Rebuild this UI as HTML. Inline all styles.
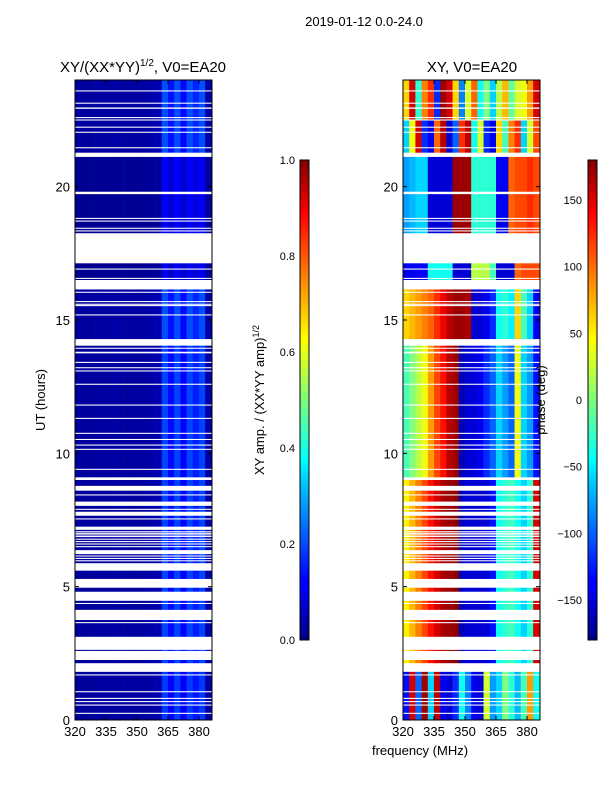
<!DOCTYPE html>
<html><head><meta charset="utf-8"><style>
html,body{margin:0;padding:0;background:#fff;}
svg{display:block;font-family:"Liberation Sans",sans-serif;}
</style></head><body>
<svg id="fig" width="600" height="800" viewBox="0 0 600 800">
<text x="364" y="26" font-size="13" text-anchor="middle">2019-01-12 0.0-24.0</text>
<text x="143" y="72" font-size="15" text-anchor="middle">XY/(XX*YY)<tspan font-size="10" dy="-6">1/2</tspan><tspan dy="6">, V0=EA20</tspan></text>
<text x="472" y="72" font-size="15" text-anchor="middle">XY, V0=EA20</text>
<g id="amp"></g>
<g id="phs"></g>
<g id="gaps"></g>
<rect x="75" y="80" width="137" height="640" fill="none" stroke="#000"/>
<rect x="403" y="80" width="137" height="640" fill="none" stroke="#000"/>
<g id="ticks" font-size="13"></g>
<text transform="translate(45,400) rotate(-90)" font-size="13" text-anchor="middle">UT (hours)</text>
<text x="420" y="755" font-size="13" text-anchor="middle">frequency (MHz)</text>
<defs>
<linearGradient id="jet" x1="0" y1="1" x2="0" y2="0">
<stop offset="0" stop-color="#00007f"/><stop offset="0.11" stop-color="#0000ff"/><stop offset="0.125" stop-color="#0000ff"/>
<stop offset="0.34" stop-color="#00d4ff"/><stop offset="0.375" stop-color="#00ffff"/>
<stop offset="0.5" stop-color="#7dff7a"/><stop offset="0.625" stop-color="#ffff00"/>
<stop offset="0.65" stop-color="#ffe600"/><stop offset="0.89" stop-color="#ff0000"/><stop offset="1" stop-color="#7f0000"/>
</linearGradient>
</defs>
<rect x="300" y="160" width="9" height="480" fill="url(#jet)" stroke="#000"/>
<rect x="588" y="160" width="9" height="480" fill="url(#jet)" stroke="#000"/>
<text transform="translate(264,400) rotate(-90)" font-size="13" text-anchor="middle">XY amp. / (XX*YY amp)<tspan font-size="9" dy="-5">1/2</tspan></text>
<text transform="translate(545,400) rotate(-90)" font-size="13" text-anchor="middle">phase (deg)</text>
</svg>
<script>
// ---- data ----
const freqBins = [321.5,324.5,327.5,330.5,333.5,336.5,339.5,342.5,345.5,348.5,351.5,354.5,357.5,360.5,363.5,366.5,369.5,372.5,375.5,378.5,381.5,384.5];
const regimeStart = [22.5, 21.27, 18.25, 16.5, 14.28, 9.0, 2.1, 0];
const regimeEnd   = [24, 22.5, 21.12, 17.13, 16.15, 14.04, 9.0, 1.81];
const phaseA = [60,150,-30,90,120,-120,170,150,60,-90,30,100,-40,0,-60,20,70,-10,30,40,80,150];
const phaseB = [-60,40,150,-120,-140,100,160,-150,-100,120,160,-40,30,-120,-140,60,-20,90,120,-60,30,110];
const phaseC = [-80,-70,-60,-60,-150,-150,-150,-150,170,170,170,-30,-30,-30,-30,-140,-140,100,110,110,120,110];
const phaseD = [-140,-140,-140,-140,-40,-40,-40,-40,-150,-150,-150,20,20,20,-20,-150,-150,-150,100,110,110,110];
const phaseE = [60,70,80,90,100,120,140,160,170,170,165,-150,-150,-140,-120,-40,-30,-50,60,-20,-60,-140];
const phaseF = [-20,0,20,40,80,110,130,160,170,-160,-150,-150,-140,-120,-100,-60,-80,-100,40,-60,-80,-130];
const phaseG = [50,70,90,110,130,150,165,170,175,-160,-150,-150,-150,-150,-130,-40,-30,-20,-40,-60,-30,150];
const phaseH = [-130,150,-100,170,-60,160,-140,-150,-120,-40,-90,-140,-150,30,-80,-60,0,-30,-70,-20,80,-40];
const ampProfile = [0.03,0.03,0.03,0.035,0.035,0.035,0.04,0.035,0.035,0.035,0.035,0.04,0.04,0.05,0.2,0.14,0.2,0.13,0.2,0.16,0.2,0.04];
const ampScale = [1, 1, 0.6, 0.55, 1, 0.95, 0.95, 0.9];
const gapStart = [23.57,23.11,22.92,22.57,22.48,22.21,22.02,21.44,21.12,19.72,18.79,18.69,18.42,18.32,17.13,16.89,16.54,16.15,16.02,15.67,15.57,15.52,15.17,14.04,13.92,13.75,13.39,13.19,13.07,12.57,
11.79,11.29,10.73,10.5,10.29,10.13,9.38,9.0,8.6,8.42,8.03,7.88,7.66,7.52,7.13,7.04,6.98,6.92,6.86,6.76,6.67,6.58,6.48,6.22,6.13,6.04,5.95,5.6,4.96,4.47,4.35,3.75,3.63,2.63,2.25,1.81,1.67,1.04,0.79,0.67,0.54,0.23];
const gapEnd   = [23.61,23.15,22.97,22.61,22.52,22.25,22.06,21.48,21.27,19.81,18.83,18.73,18.46,18.36,18.25,16.93,16.58,16.5,16.06,15.71,15.61,15.56,15.21,14.28,13.96,13.81,13.43,13.23,13.11,12.61,
11.83,11.33,10.77,10.54,10.33,10.17,9.42,9.1,8.78,8.46,8.19,7.92,7.81,7.56,7.25,7.08,7.02,6.96,6.9,6.8,6.71,6.62,6.52,6.37,6.17,6.08,5.99,5.88,5.29,4.81,4.39,4.13,3.67,3.12,2.59,2.13,1.71,1.08,0.83,0.71,0.58,0.27];
const yTicks = [0,5,10,15,20];
const xTicks = [320,335,350,365,380];
const ampCbTicks = [0.0,0.2,0.4,0.6,0.8,1.0];
const phsCbTicks = [-150,-100,-50,0,50,100,150];
// ---- scales ----
const F0=320, F1=386.3, BIN=3;
function xA(f){return 75+(f-F0)/(F1-F0)*137;}
function xP(f){return 403+(f-F0)/(F1-F0)*137;}
function yH(h){return 720-h/24*640;}
function jet(v){v=Math.max(0,Math.min(1,v));
 const r=Math.max(0,Math.min(1,Math.min(4*v-1.5,-4*v+4.5)));
 const g=Math.max(0,Math.min(1,Math.min(4*v-0.5,-4*v+3.5)));
 const b=Math.max(0,Math.min(1,Math.min(4*v+0.5,-4*v+2.5)));
 return `rgb(${Math.round(r*255)},${Math.round(g*255)},${Math.round(b*255)})`;}
const NS='http://www.w3.org/2000/svg';
function mk(tag,attrs,parent){const e=document.createElementNS(NS,tag);for(const k in attrs)e.setAttribute(k,attrs[k]);parent.appendChild(e);return e;}
const phases=[phaseA,phaseB,phaseC,phaseD,phaseE,phaseF,phaseG,phaseH];
const gA=document.getElementById('amp'), gP=document.getElementById('phs');
for(let r=0;r<regimeStart.length;r++){
 const y0=yH(regimeEnd[r]), y1=yH(regimeStart[r]);
 for(let i=0;i<freqBins.length;i++){
  const fa=freqBins[i]-BIN/2, fb=Math.min(freqBins[i]+BIN/2,F1);
  const c=mk('rect',{x:xA(fa),y:y0,width:xA(fb)-xA(fa)+0.3,height:y1-y0,fill:jet(ampProfile[i]*ampScale[r])},gA);
  
  
  const p=mk('rect',{x:xP(fa),y:y0,width:xP(fb)-xP(fa)+0.3,height:y1-y0,fill:jet((phases[r][i]+180)/360)},gP);
  
  
 }
}
const gG=document.getElementById('gaps');
for(let k=0;k<gapStart.length;k++){
 const y0=yH(gapEnd[k]), h=yH(gapStart[k])-y0;
 const a=mk('rect',{x:75,y:y0,width:137,height:h,fill:'#fff'},gG);
 
 
 const b=mk('rect',{x:403,y:y0,width:137,height:h,fill:'#fff'},gG);
 
 
}
const gT=document.getElementById('ticks');
[[75,xA],[403,xP]].forEach(([x0,xs])=>{
 yTicks.forEach(v=>{const y=yH(v);
  mk('line',{x1:x0,y1:y,x2:x0+4,y2:y,stroke:'#000'},gT);
  mk('line',{x1:x0+137,y1:y,x2:x0+133,y2:y,stroke:'#000'},gT);
  const t=mk('text',{x:x0-5,y:y+5,'text-anchor':'end'},gT);t.textContent=v;
  
  
 });
 xTicks.forEach(v=>{const x=xs(v);
  mk('line',{x1:x,y1:720,x2:x,y2:716,stroke:'#000'},gT);
  mk('line',{x1:x,y1:80,x2:x,y2:84,stroke:'#000'},gT);
  const t=mk('text',{x:x,y:736,'text-anchor':'middle'},gT);t.textContent=v;
  
  
 });
});
ampCbTicks.forEach(v=>{const y=640-v*480;
 mk('line',{x1:300,y1:y,x2:309,y2:y,stroke:'#000'},gT);
 const t=mk('text',{x:295,y:y+4,'text-anchor':'end','font-size':'11'},gT);t.textContent=v.toFixed(1);
 
 
});
phsCbTicks.forEach(v=>{const y=640-(v+180)/360*480;
 mk('line',{x1:588,y1:y,x2:597,y2:y,stroke:'#000'},gT);
 const t=mk('text',{x:582,y:y+4,'text-anchor':'end','font-size':'11'},gT);t.textContent=v<0?'\u2212'+(-v):v;
 
 
});
</script>
</body></html>
